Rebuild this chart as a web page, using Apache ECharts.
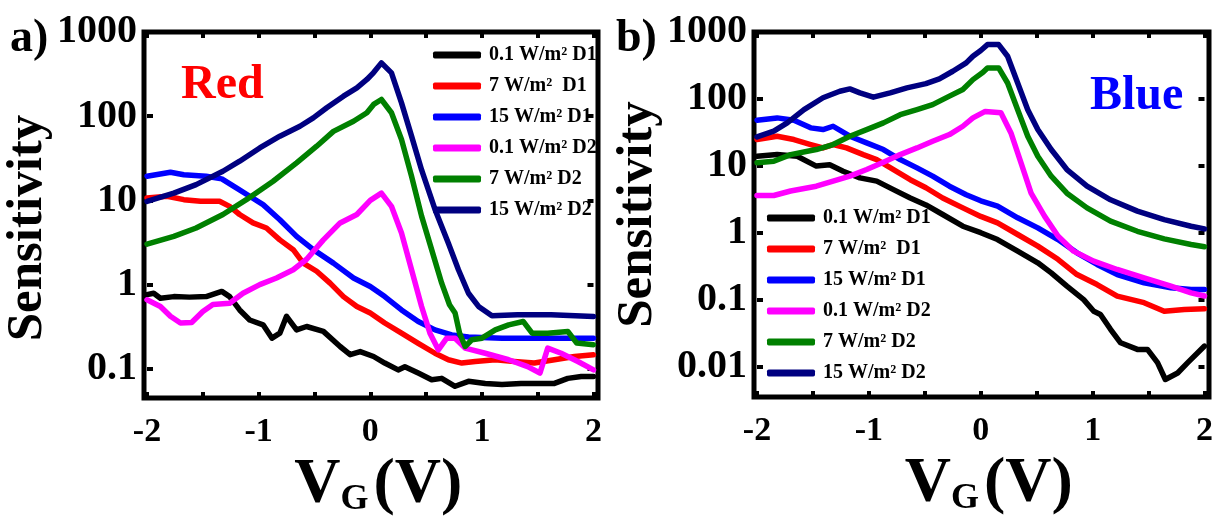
<!DOCTYPE html>
<html><head><meta charset="utf-8">
<script src="https://cdn.jsdelivr.net/npm/echarts@6/dist/echarts.min.js"></script>
<style>html,body{margin:0;padding:0;background:#fff}#c{width:1225px;height:523px}</style>
</head><body><div id="c"></div>
<script>
// ---------- DATA (gate voltage V, sensitivity) ----------
const seriesNames = ['0.1 W/m² D1', '7 W/m²  D1', '15 W/m² D1', '0.1 W/m² D2', '7 W/m² D2', '15 W/m² D2'];
const panelTitles = ['a)', 'b)'];
const panelLabels = ['Red', 'Blue'];
const xTickValues = [-2, -1, 0, 1, 2];

// Panel a) Red
const redD1_01 = [[-2,0.76],[-1.94,0.79],[-1.88,0.69],[-1.76,0.72],[-1.62,0.71],[-1.47,0.72],[-1.33,0.83],[-1.26,0.72],[-1.17,0.5],[-1.08,0.38],[-0.96,0.333],[-0.88,0.231],[-0.81,0.265],[-0.75,0.42],[-0.66,0.29],[-0.57,0.318],[-0.42,0.278],[-0.27,0.184],[-0.18,0.147],[-0.09,0.16],[0.03,0.14],[0.13,0.117],[0.25,0.097],[0.31,0.106],[0.43,0.089],[0.55,0.074],[0.64,0.077],[0.76,0.062],[0.88,0.071],[1.03,0.067],[1.18,0.065],[1.35,0.067],[1.53,0.067],[1.65,0.067],[1.77,0.077],[1.89,0.081],[2,0.081]];
const redD1_7 = [[-2,10.7],[-1.82,11.2],[-1.67,10.2],[-1.52,9.75],[-1.35,9.75],[-1.26,8.5],[-1.17,6.8],[-1.05,5.4],[-0.93,4.7],[-0.81,3.4],[-0.69,2.6],[-0.6,1.8],[-0.48,1.44],[-0.36,1.04],[-0.24,0.72],[-0.12,0.55],[0.0,0.46],[0.13,0.35],[0.28,0.265],[0.43,0.2],[0.58,0.153],[0.7,0.128],[0.82,0.117],[0.94,0.122],[1.12,0.128],[1.29,0.122],[1.47,0.117],[1.65,0.128],[1.83,0.14],[2,0.147]];
const redD1_15 = [[-2,19.4],[-1.79,21.6],[-1.67,20.2],[-1.47,19.4],[-1.33,18],[-1.2,14.1],[-1.08,11.2],[-0.96,8.9],[-0.81,5.9],[-0.66,3.74],[-0.51,2.6],[-0.33,1.8],[-0.15,1.2],[0.0,0.95],[0.13,0.72],[0.28,0.5],[0.43,0.365],[0.58,0.29],[0.73,0.253],[0.88,0.238],[1.18,0.231],[1.47,0.231],[1.77,0.231],[2,0.231]];
const redD2_01 = [[-2,0.66],[-1.88,0.55],[-1.79,0.42],[-1.7,0.35],[-1.6,0.355],[-1.5,0.48],[-1.41,0.58],[-1.26,0.6],[-1.14,0.79],[-0.99,1.0],[-0.84,1.2],[-0.69,1.5],[-0.57,2.0],[-0.42,3.4],[-0.27,5.4],[-0.12,6.8],[0.0,10],[0.1,12.2],[0.19,8.5],[0.28,4.1],[0.37,1.5],[0.46,0.55],[0.535,0.265],[0.61,0.168],[0.685,0.231],[0.76,0.231],[0.85,0.176],[1.03,0.153],[1.24,0.128],[1.41,0.106],[1.52,0.089],[1.59,0.176],[1.71,0.153],[1.86,0.122],[2,0.097]];
const redD2_7 = [[-2,3.03],[-1.76,3.74],[-1.56,4.7],[-1.32,6.8],[-1.11,10.2],[-0.87,16.9],[-0.66,27.9],[-0.48,44],[-0.33,66],[-0.15,87],[-0.03,110],[0.03,138],[0.1,158],[0.19,110],[0.28,53],[0.37,19.4],[0.46,6.5],[0.55,2.6],[0.64,1.04],[0.71,0.576],[0.76,0.46],[0.8,0.265],[0.85,0.184],[0.91,0.221],[1.0,0.231],[1.12,0.29],[1.24,0.333],[1.37,0.365],[1.45,0.265],[1.59,0.265],[1.77,0.278],[1.85,0.202],[2,0.193]];
const redD2_15 = [[-2,9.75],[-1.76,12.2],[-1.56,15.4],[-1.32,22.2],[-1.17,29.2],[-0.99,42],[-0.81,57.8],[-0.63,76],[-0.51,95.5],[-0.39,126],[-0.24,173],[-0.12,217],[-0.03,273],[0.03,330],[0.1,430],[0.19,327],[0.28,144],[0.37,58],[0.46,23],[0.58,7.8],[0.7,3.1],[0.79,1.5],[0.88,0.79],[0.97,0.55],[1.09,0.427],[1.32,0.438],[1.62,0.438],[2,0.419]];

// Panel b) Blue
const blueD1_01 = [[-2,13.9],[-1.82,14.7],[-1.64,13.9],[-1.47,9.9],[-1.35,10.4],[-1.23,8.3],[-1.08,6.6],[-0.93,5.9],[-0.78,4.4],[-0.63,3.3],[-0.49,2.6],[-0.34,1.87],[-0.16,1.25],[0.0,1.0],[0.15,0.79],[0.33,0.53],[0.51,0.355],[0.63,0.251],[0.77,0.159],[0.92,0.1],[1.01,0.067],[1.07,0.06],[1.16,0.036],[1.25,0.0226],[1.4,0.018],[1.49,0.018],[1.58,0.0114],[1.65,0.0064],[1.76,0.008],[1.85,0.0114],[2,0.0202]];
const blueD1_7 = [[-2,24.7],[-1.82,27.7],[-1.67,24.7],[-1.52,20.8],[-1.41,18.5],[-1.32,20.8],[-1.2,18.5],[-1.05,14.7],[-0.93,12.4],[-0.78,8.8],[-0.63,6.2],[-0.49,4.7],[-0.34,3.3],[-0.16,2.35],[0.0,1.75],[0.15,1.4],[0.33,0.94],[0.51,0.63],[0.69,0.4],[0.86,0.237],[1.04,0.168],[1.22,0.113],[1.46,0.09],[1.64,0.067],[1.82,0.071],[2,0.073]];
const blueD1_15 = [[-2,48],[-1.82,52],[-1.67,48],[-1.52,36.9],[-1.41,34.8],[-1.32,39],[-1.17,27.7],[-1.02,22],[-0.87,17.5],[-0.72,12.4],[-0.57,9.3],[-0.43,7.0],[-0.28,4.95],[-0.13,3.7],[0.0,3.0],[0.15,2.5],[0.33,1.67],[0.51,1.18],[0.69,0.79],[0.86,0.5],[1.04,0.335],[1.22,0.237],[1.46,0.178],[1.7,0.15],[1.88,0.142],[2,0.142]];
const blueD2_01 = [[-2,3.6],[-1.85,3.6],[-1.7,4.2],[-1.47,4.95],[-1.32,5.9],[-1.17,7.0],[-1.02,8.8],[-0.87,11.3],[-0.72,14.7],[-0.57,18.5],[-0.43,23.3],[-0.28,29.3],[-0.16,39],[-0.07,52],[0.04,65],[0.18,62],[0.27,31],[0.36,11.1],[0.45,3.9],[0.57,1.77],[0.69,0.89],[0.83,0.53],[1.01,0.376],[1.22,0.282],[1.46,0.212],[1.7,0.159],[1.88,0.126],[2,0.113]];
const blueD2_7 = [[-2,11.1],[-1.85,11.7],[-1.7,14.7],[-1.47,17.5],[-1.32,20.8],[-1.17,27.7],[-1.02,34.8],[-0.87,43.8],[-0.72,58],[-0.57,69],[-0.43,82],[-0.28,110],[-0.16,138],[-0.07,194],[0.02,250],[0.06,290],[0.16,290],[0.24,173],[0.33,69],[0.42,27.7],[0.51,13.9],[0.63,7.0],[0.77,3.9],[0.95,2.35],[1.16,1.49],[1.4,1.05],[1.64,0.81],[1.88,0.667],[2,0.615]];
const blueD2_15 = [[-2,27],[-1.85,32.9],[-1.73,43.8],[-1.58,69],[-1.41,104],[-1.26,130],[-1.17,141],[-1.08,123],[-0.96,106],[-0.81,123],[-0.66,146],[-0.49,169],[-0.37,199],[-0.25,259],[-0.13,345],[-0.07,434],[0.0,530],[0.06,649],[0.16,649],[0.24,434],[0.33,173],[0.42,69],[0.51,34.8],[0.63,17.5],[0.77,8.8],[0.95,4.95],[1.16,3.1],[1.4,2.1],[1.64,1.57],[1.88,1.25],[2,1.14]];

const panelData = [
  [redD1_01, redD1_7, redD1_15, redD2_01, redD2_7, redD2_15],
  [blueD1_01, blueD1_7, blueD1_15, blueD2_01, blueD2_7, blueD2_15]
];

// ---------- STYLE ----------
const seriesColors = ['#000000', '#ff0000', '#0000ff', '#ff00ff', '#008000', '#000080'];
const FONT = "'Liberation Serif', 'Times New Roman', serif";
const dataGrids = [
  { left: 147, right: 631.5, top: 32, bottom: 125 },
  { left: 757, right: 20.5, top: 32, bottom: 126 }
];
const frames = [
  { x: 144, y: 32, width: 454, height: 366 },
  { x: 754, y: 32, width: 455, height: 365 }
];
const yMins = [0.045, 0.0035];

function yLabel(v) {
  const l = Math.log10(v);
  if (Math.abs(l - Math.round(l)) > 1e-6) return '';
  const r = Math.round(l);
  return r >= 0 ? String(Math.round(v)) : v.toFixed(-r);
}
function xLabel(v) {
  return xTickValues.indexOf(v) >= 0 ? String(v) : '';
}
function tickOpt() { return { show: true, inside: true, length: 6, lineStyle: { color: '#000000', width: 4 } }; }
function noLine() { return { show: false, onZero: false }; }

const grids = [], xAxes = [], yAxes = [], series = [], legends = [], titles = [], graphics = [];

for (let p = 0; p < 2; p++) {
  grids.push(Object.assign({}, dataGrids[p]));
  xAxes.push({
    gridIndex: p, type: 'value', position: 'bottom', min: -2, max: 2, interval: 0.5,
    axisLine: noLine(), axisTick: tickOpt(), splitLine: { show: false },
    axisLabel: { formatter: xLabel, color: '#000', fontFamily: FONT, fontWeight: 'bold', fontSize: 34, margin: 17 },
    name: '{v|V}{g|G}{v|(V)}', nameLocation: 'middle', nameGap: 48,
    nameTextStyle: {
      color: '#000', fontFamily: FONT, fontWeight: 'bold', padding: [0, 0, 0, 16],
      rich: {
        v: { fontSize: 64, fontFamily: FONT, fontWeight: 'bold', color: '#000', verticalAlign: 'bottom', lineHeight: 64 },
        g: { fontSize: 36, fontFamily: FONT, fontWeight: 'bold', color: '#000', verticalAlign: 'bottom', lineHeight: 36, padding: [0, 5, 0, 0] }
      }
    }
  });
  xAxes.push({
    gridIndex: p, type: 'value', position: 'top', min: -2, max: 2, interval: 0.5,
    axisLine: noLine(), axisTick: tickOpt(), axisLabel: { show: false }, splitLine: { show: false }
  });
  yAxes.push({
    gridIndex: p, type: 'log', logBase: 10, position: 'left', min: yMins[p], max: 1000,
    axisLine: noLine(), axisTick: tickOpt(), splitLine: { show: false }, minorTick: { show: false },
    axisLabel: { formatter: yLabel, color: '#000', fontFamily: FONT, fontWeight: 'bold', fontSize: 40, margin: 10, showMinLabel: true, showMaxLabel: true },
    name: 'Sensitivity', nameLocation: 'middle', nameRotate: 90, nameGap: p === 0 ? 94 : 84,
    nameTextStyle: { color: '#000', fontFamily: FONT, fontWeight: 'bold', fontSize: 51, padding: p === 0 ? [0, 26, 0, 0] : 0 }
  });
  yAxes.push({
    gridIndex: p, type: 'log', logBase: 10, position: 'right', min: yMins[p], max: 1000,
    axisLine: noLine(), axisTick: tickOpt(), axisLabel: { show: false }, splitLine: { show: false }, minorTick: { show: false }
  });

  for (let s = 0; s < 6; s++) {
    series.push({
      name: seriesNames[s], type: 'line', xAxisIndex: p * 2, yAxisIndex: p * 2,
      data: panelData[p][s], showSymbol: false, symbol: 'none', smooth: false,
      color: seriesColors[s],
      lineStyle: { width: 5.5, color: seriesColors[s], cap: 'round', join: 'round' }
    });
  }
  graphics.push({
    type: 'rect', silent: true,
    shape: { x: frames[p].x, y: frames[p].y, width: frames[p].width, height: frames[p].height },
    style: { fill: 'none', stroke: '#000000', lineWidth: 5 }
  });
}

for (let p = 0; p < 2; p++) {
  legends.push({
    orient: 'vertical', left: p === 0 ? 433 : 767, top: p === 0 ? 45 : 208, padding: 0, itemGap: 11,
    itemWidth: 48, itemHeight: 7, icon: 'roundRect', data: seriesNames.slice(),
    textStyle: { color: '#000', fontFamily: FONT, fontWeight: 'bold', fontSize: 20, lineHeight: 20, padding: [0, 0, 0, 3] },
    selectedMode: false
  });
}

titles.push({ text: panelTitles[0], left: 10, top: 16, padding: 0, textStyle: { color: '#000', fontFamily: FONT, fontWeight: 'bold', fontSize: 46 } });
titles.push({ text: panelTitles[1], left: 616, top: 16, padding: 0, textStyle: { color: '#000', fontFamily: FONT, fontWeight: 'bold', fontSize: 46 } });
titles.push({ text: panelLabels[0], left: 181, top: 62, padding: 0, textStyle: { color: '#ff0000', fontFamily: FONT, fontWeight: 'bold', fontSize: 48 } });
titles.push({ text: panelLabels[1], left: 1090, top: 73, padding: 0, textStyle: { color: '#0000ff', fontFamily: FONT, fontWeight: 'bold', fontSize: 48 } });

const chart = echarts.init(document.getElementById('c'));
chart.setOption({
  animation: false,
  title: titles,
  legend: legends,
  grid: grids,
  xAxis: xAxes,
  yAxis: yAxes,
  series: series,
  graphic: graphics
});
// make sure every element (frames, ticks) is in the painted display list
chart.getZr().storage.getDisplayList(true);
</script>
</body></html>
